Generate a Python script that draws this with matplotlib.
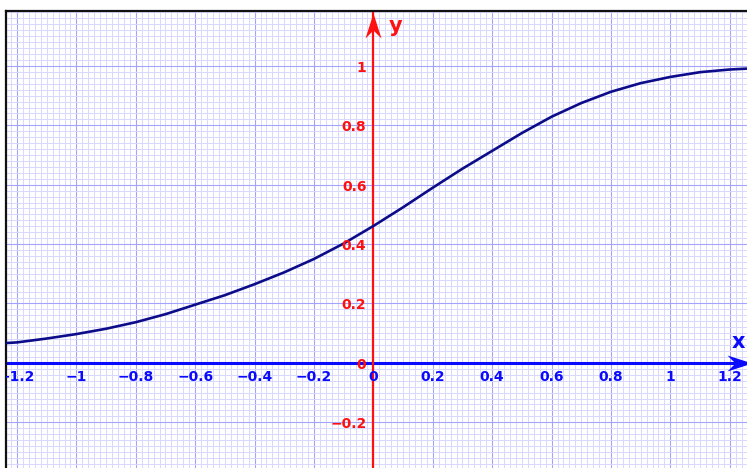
import numpy as np
import matplotlib
matplotlib.use("Agg")
import matplotlib.pyplot as plt
from matplotlib.ticker import MultipleLocator
from matplotlib.path import Path

# curve values
curve_x = [-1.25, -1.2, -1.1, -1.0, -0.9, -0.8, -0.7, -0.6, -0.5, -0.4, -0.3, -0.2, -0.1,
           0.0, 0.1, 0.2, 0.3, 0.4, 0.5, 0.6, 0.7, 0.8, 0.9, 1.0, 1.1, 1.2, 1.26]
curve_y = [0.066, 0.069, 0.082, 0.097, 0.115, 0.137, 0.164, 0.196, 0.228, 0.265, 0.305, 0.350, 0.402,
           0.461, 0.524, 0.590, 0.654, 0.714, 0.774, 0.829, 0.875, 0.913, 0.942, 0.963, 0.979, 0.988, 0.991]

x_ticks = [-1.2, -1.0, -0.8, -0.6, -0.4, -0.2, 0.0, 0.2, 0.4, 0.6, 0.8, 1.0, 1.2]
y_ticks = [-0.2, 0.0, 0.2, 0.4, 0.6, 0.8, 1.0]

XLIM = (-1.237, 1.258)
YLIM = (-0.354, 1.185)

BLUE = "#0a0aff"
RED = "#ff1010"
NAVY = "#0c0c8a"
DPI = 100


def fmt(v):
    return f"{v:g}".replace("-", "\u2212")


fig = plt.figure(figsize=(7.47, 4.68), dpi=DPI)
ax = fig.add_axes([6 / 747, 0, 741 / 747, 457 / 468])
ax.set_xlim(*XLIM)
ax.set_ylim(*YLIM)

# graph paper
ax.xaxis.set_major_locator(MultipleLocator(0.2))
ax.xaxis.set_minor_locator(MultipleLocator(0.02))
ax.yaxis.set_major_locator(MultipleLocator(0.2))
ax.yaxis.set_minor_locator(MultipleLocator(0.02))
ax.grid(which="major", color="#a4a4ff", lw=0.8)
ax.grid(which="minor", color="#d8d8ff", lw=0.7)
ax.set_axisbelow(True)
ax.tick_params(which="both", length=0, labelbottom=False, labelleft=False)

for side in ["right", "bottom"]:
    ax.spines[side].set_visible(False)
for side in ["left", "top"]:
    ax.spines[side].set_color("#111111")
    ax.spines[side].set_linewidth(1.6)

# axes lines with arrowheads
ax.axhline(0, color=BLUE, lw=2.2, zorder=2)
ax.axvline(0, color=RED, lw=1.6, zorder=2)

ms = 2 * 25 * 72 / DPI
x_head = Path([(0, 0), (-25, 8), (-17, 0), (-25, -8), (0, 0)],
              [Path.MOVETO, Path.LINETO, Path.LINETO, Path.LINETO, Path.CLOSEPOLY])
y_head = Path([(0, 0), (8, -25), (0, -17), (-8, -25), (0, 0)],
              [Path.MOVETO, Path.LINETO, Path.LINETO, Path.LINETO, Path.CLOSEPOLY])
ax.plot([1.275], [0], marker=x_head, ms=ms, color=BLUE, mec=BLUE, mew=0, clip_on=False, zorder=3)
ax.plot([0], [1.178], marker=y_head, ms=ms, color=RED, mec=RED, mew=0, clip_on=False, zorder=3)

# the curve
ax.plot(curve_x, curve_y, color=NAVY, lw=1.9, solid_joinstyle="round",
        solid_capstyle="round", zorder=4)

# tick labels
for v in x_ticks:
    ax.annotate(fmt(v), xy=(v, 0), xytext=(0, -14), textcoords="offset pixels",
                ha="center", va="center", color=BLUE, fontsize=10, fontweight="bold",
                clip_on=True, zorder=5)
for v in y_ticks:
    ax.annotate(fmt(v), xy=(0, v), xytext=(-7, -2), textcoords="offset pixels",
                ha="right", va="center", color=RED, fontsize=10, fontweight="bold",
                clip_on=True, zorder=5)

ax.annotate("x", xy=(XLIM[1], 0), xytext=(-9, 21), textcoords="offset pixels",
            ha="center", va="center", color=BLUE, fontsize=15, fontweight="bold", zorder=5)
ax.annotate("y", xy=(0, YLIM[1]), xytext=(22, -15), textcoords="offset pixels",
            ha="center", va="center", color=RED, fontsize=15, fontweight="bold", zorder=5)

fig.savefig("out.png", dpi=DPI)
